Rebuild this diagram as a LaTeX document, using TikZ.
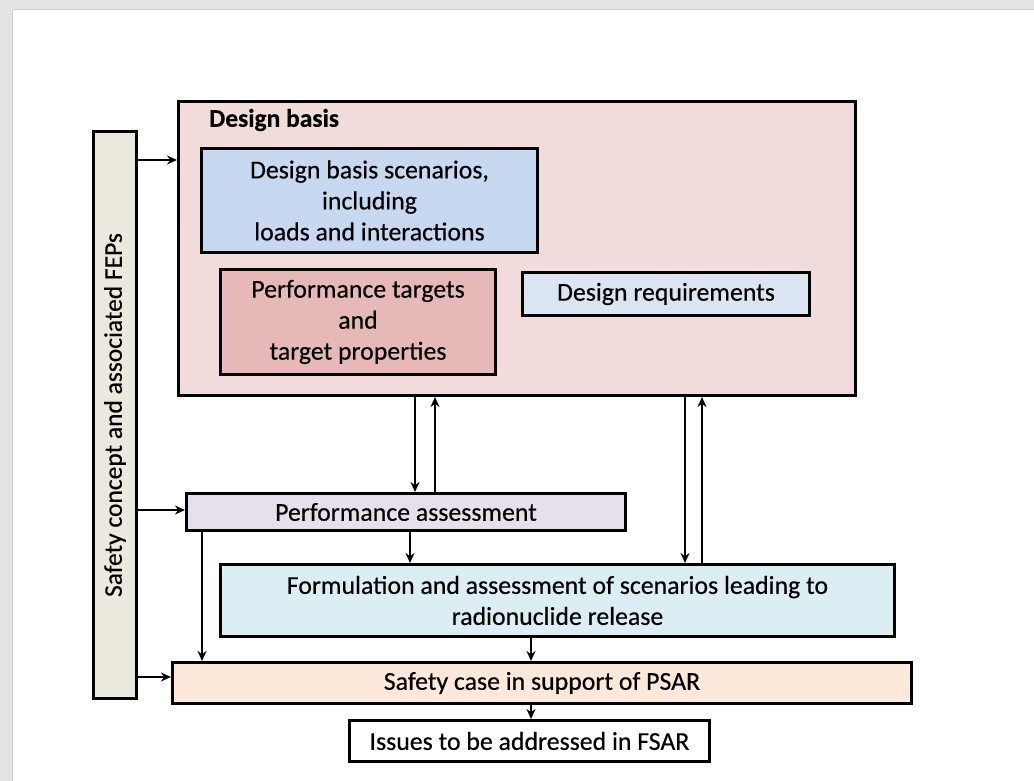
\documentclass[tikz,border=0pt]{standalone}
\usepackage{fontspec}
\setmainfont{Carlito}[FakeBold=0.4]
\usetikzlibrary{arrows.meta}
\definecolor{bgframe}{HTML}{E4E4E4}
\definecolor{dbfill}{HTML}{F2DCDB}
\definecolor{dbsfill}{HTML}{C6D9F1}
\definecolor{ptfill}{HTML}{E6B9B8}
\definecolor{drfill}{HTML}{DBE5F1}
\definecolor{scfill}{HTML}{EBE9DE}
\definecolor{pafill}{HTML}{E5E0EC}
\definecolor{frfill}{HTML}{DBEEF4}
\definecolor{casefill}{HTML}{FDE9D9}
\tikzset{
  box/.style={draw=black, line width=3pt, inner sep=0pt, align=center, anchor=north west,
    font=\fontsize{25.8}{31}\selectfont},
  arr/.style={line width=2.4pt, -{Stealth[length=10pt,width=9pt]}},
}
\begin{document}
\begin{tikzpicture}[x=1pt,y=-1pt]
\useasboundingbox (0,0) rectangle (1034,781);
\fill[bgframe] (0,0) rectangle (1034,781);
\fill[white] (13,10) rectangle (1034,781);
\draw[gray!40, line width=1pt] (13,9.5) -- (1034,9.5);
\draw[gray!40, line width=1pt] (12.5,10) -- (12.5,781);

% Design basis container
\node[box, fill=dbfill, minimum width=677, minimum height=294] (db) at (177,100) {};
\node[anchor=west, inner sep=0pt, font=\fontsize{25.5}{30}\selectfont\bfseries] (dblabel) at (209,120) {Design basis};
\node[box, fill=dbsfill, minimum width=336, minimum height=104] (dbs) at (200,147)
  {Design basis scenarios,\\including\\loads and interactions};
\node[box, fill=ptfill, minimum width=275, minimum height=105] (pt) at (219,268)
  {Performance targets\\and\\target properties};
\node[box, fill=drfill, minimum width=287, minimum height=43] (dr) at (521,271)
  {Design requirements};

% Safety concept bar
\node[box, fill=scfill, minimum width=43, minimum height=567] (sc) at (92,130) {};
\node[rotate=90, inner sep=0pt, font=\fontsize{25.5}{31}\selectfont] (sctext) at (sc.center) {Safety concept and associated FEPs};

% Lower boxes
\node[box, fill=pafill, minimum width=439, minimum height=37] (pa) at (185,492)
  {Performance assessment};
\node[box, fill=frfill, minimum width=674, minimum height=72] (fr) at (219,563)
  {Formulation and assessment of scenarios leading to\\radionuclide release};
\node[box, fill=casefill, minimum width=739, minimum height=41] (case) at (171,661)
  {Safety case in support of PSAR};
\node[box, fill=white, minimum width=360, minimum height=41] (iss) at (348,719)
  {Issues to be addressed in FSAR};

% guide coordinates
\coordinate (y160) at (0,160);
\coordinate (y510) at (0,510);
\coordinate (y677) at (0,677);
\coordinate (x415) at (415,0);
\coordinate (x435) at (435,0);
\coordinate (x685) at (685,0);
\coordinate (x702) at (702,0);
\coordinate (x410) at (410,0);
\coordinate (x202) at (202,0);
\coordinate (x531) at (531,0);

% arrows from the safety concept bar
\draw[arr] (sc.east |- y160) -- (db.west |- y160);
\draw[arr] (sc.east |- y510) -- (pa.west |- y510);
\draw[arr] (sc.east |- y677) -- (case.west |- y677);

% design basis <-> performance assessment
\draw[arr] (db.south -| x415) -- (pa.north -| x415);
\draw[arr] (pa.north -| x435) -- (db.south -| x435);

% design basis <-> formulation
\draw[arr] (db.south -| x685) -- (fr.north -| x685);
\draw[arr] (fr.north -| x702) -- (db.south -| x702);

% performance assessment outputs
\draw[arr] (pa.south -| x410) -- (fr.north -| x410);
\draw[arr] (pa.south -| x202) -- (case.north -| x202);

% formulation -> safety case -> issues
\draw[arr] (fr.south -| x531) -- (case.north -| x531);
\draw[arr] (case.south -| x531) -- (iss.north -| x531);
\end{tikzpicture}
\end{document}
